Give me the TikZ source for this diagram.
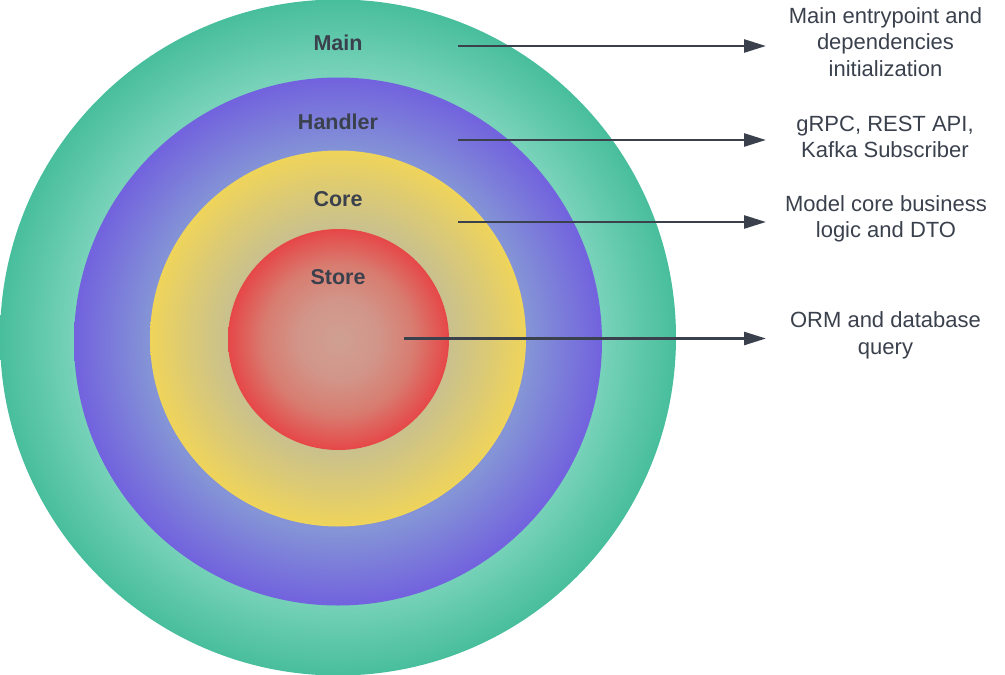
\documentclass[tikz,border=0pt]{standalone}
\usepackage{fontspec}
\setmainfont{Liberation Sans}
\usetikzlibrary{arrows.meta}
\definecolor{ink}{HTML}{3A414D}
\definecolor{gEdge}{HTML}{48BE9C}
\definecolor{gIn}{HTML}{80D6BE}
\definecolor{gC}{HTML}{A8E2D2}
\definecolor{pEdge}{HTML}{7262DE}
\definecolor{pIn}{HTML}{8494D6}
\definecolor{pC}{HTML}{A2AECF}
\definecolor{yEdge}{HTML}{EFD45A}
\definecolor{yIn}{HTML}{C8C08F}
\definecolor{yC}{HTML}{C0B8A0}
\definecolor{rEdge}{HTML}{E64747}
\definecolor{rIn}{HTML}{D87C70}
\definecolor{rC}{HTML}{CFA093}
\pgfdeclareradialshading{gshade}{\pgfpoint{0bp}{0bp}}{color(0bp)=(gC); color(15bp)=(gIn); color(19.5bp)=(gIn!85!gEdge); color(25bp)=(gEdge); color(50bp)=(gEdge)}
\pgfdeclareradialshading{pshade}{\pgfpoint{0bp}{0bp}}{color(0bp)=(pC); color(12.5bp)=(pIn!90!pC); color(18bp)=(pIn); color(25bp)=(pEdge); color(50bp)=(pEdge)}
\pgfdeclareradialshading{yshade}{\pgfpoint{0bp}{0bp}}{color(0bp)=(yC); color(14.5bp)=(yIn); color(20bp)=(yIn!50!yEdge); color(25bp)=(yEdge); color(50bp)=(yEdge)}
\pgfdeclareradialshading{rshade}{\pgfpoint{0bp}{0bp}}{color(0bp)=(rC); color(9bp)=(rC!70!rIn); color(17bp)=(rIn); color(25bp)=(rEdge); color(50bp)=(rEdge)}
\tikzset{
  ring/.style={circle, draw=none, inner sep=0pt},
  layerlabel/.style={font=\fontsize{21.5}{24}\selectfont\bfseries, text=ink, inner sep=0pt},
  note/.style={font=\fontsize{22}{26.5}\selectfont, text=ink, align=center, inner sep=0pt},
  pointer/.style={draw=ink, line width=2.6pt, -{Triangle[length=22pt, width=13pt]}}
}
\begin{document}
\begin{tikzpicture}[x=1pt, y=-1pt]
\useasboundingbox (0,0) rectangle (1005,675);
\node[ring, minimum size=676pt, shading=gshade] (main) at (338,337.5) {};
\node[ring, minimum size=528pt, shading=pshade] (handler) at (338,341.5) {};
\node[ring, minimum size=376pt, shading=yshade] (core) at (338,338.5) {};
\node[ring, minimum size=221pt, shading=rshade] (store) at (338.5,339.5) {};

\node[layerlabel] (lmain) at (338,43) {Main};
\node[layerlabel] (lhandler) at (338,122) {Handler};
\node[layerlabel] (lcore) at (338,199) {Core};
\node[layerlabel] (lstore) at (338,277) {Store};

\node[note] (tmain) at (885.5,42) {Main entrypoint and\\dependencies\\initialization};
\node[note] (thandler) at (885,137) {gRPC, REST API,\\Kafka Subscriber};
\node[note] (tcore) at (886,219) {Model core business\\logic and DTO};
\node[note] (tstore) at (885.5,335.5) {ORM and database\\query};

\coordinate (s1) at (458,46);
\coordinate (e1) at (766,46);
\coordinate (s2) at (458,140);
\coordinate (e2) at (766,140);
\coordinate (s3) at (458,222);
\coordinate (e3) at (766,222);
\coordinate (s4) at (404,338.5);
\coordinate (e4) at (766,338.5);

\draw[pointer] (s1) -- (e1);
\draw[pointer] (s2) -- (e2);
\draw[pointer] (s3) -- (e3);
\draw[pointer] (s4) -- (e4);
\end{tikzpicture}
\end{document}
